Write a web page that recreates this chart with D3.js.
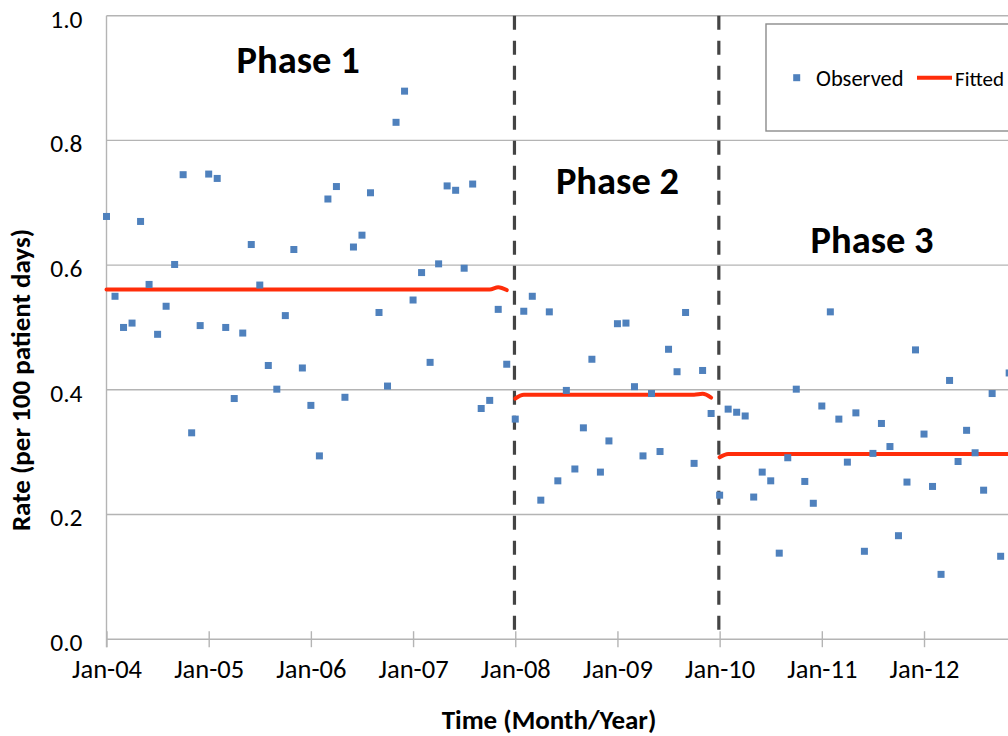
<!DOCTYPE html>
<html>
<head>
<meta charset="utf-8">
<script src="https://cdn.jsdelivr.net/npm/d3@7"></script>
<style>
  html, body { margin: 0; padding: 0; background: #fff; }
  svg { display: block; }
  text { font-family: Carlito, Lato, "Open Sans", sans-serif; fill: #000; }
</style>
</head>
<body>
<div id="chart"></div>
<script>
// ---------------- data ----------------
// monthly observed rates, starting Jan-2004 (month index 0)
const observed = [
  0.678, 0.550, 0.500, 0.507, 0.670, 0.569, 0.489, 0.534, 0.601, 0.745, 0.331, 0.503,
  0.746, 0.739, 0.500, 0.386, 0.491, 0.633, 0.568, 0.439, 0.401, 0.519, 0.625, 0.435,
  0.375, 0.294, 0.706, 0.726, 0.388, 0.629, 0.648, 0.716, 0.524, 0.406, 0.829, 0.879,
  0.544, 0.588, 0.444, 0.602, 0.727, 0.720, 0.595, 0.730, 0.370, 0.383, 0.529, 0.441,
  0.353, 0.526, 0.550, 0.223, 0.525, 0.254, 0.399, 0.273, 0.339, 0.449, 0.268, 0.318,
  0.506, 0.507, 0.405, 0.294, 0.394, 0.301, 0.465, 0.429, 0.524, 0.282, 0.431, 0.362,
  0.231, 0.369, 0.364, 0.358, 0.228, 0.268, 0.254, 0.138, 0.291, 0.401, 0.253, 0.218,
  0.374, 0.525, 0.353, 0.284, 0.363, 0.141, 0.298, 0.346, 0.309, 0.166, 0.252, 0.464,
  0.329, 0.245, 0.104, 0.415, 0.285, 0.335, 0.299, 0.239, 0.394, 0.133, 0.427
];
// fitted segments: [month index, fitted rate]
const fittedPhase1 = [[0, 0.561], [45, 0.561], [46, 0.5645], [47, 0.560]];
const fittedPhase2 = [[48, 0.386], [49, 0.392], [69, 0.392], [70, 0.3935], [71, 0.3875]];
const fittedPhase3 = [[72, 0.2917], [73, 0.297], [108, 0.297]];
const phaseBreaks = [48, 72];               // Jan-08, Jan-10
const phaseLabels = ["Phase 1", "Phase 2", "Phase 3"];
const phaseLabelMonth = [22.5, 60, 89.9];
const phaseLabelValue = [0.908, 0.714, 0.619];
const tickMonths = [0, 12, 24, 36, 48, 60, 72, 84, 96];
const tickLabels = ["Jan-04", "Jan-05", "Jan-06", "Jan-07", "Jan-08", "Jan-09", "Jan-10", "Jan-11", "Jan-12"];
const yTicks = [0, 0.2, 0.4, 0.6, 0.8, 1.0];
const legendLabels = ["Observed", "Fitted"];

// ---------------- layout ----------------
const W = 1008, H = 736;
const x = d3.scaleLinear().domain([0, 108]).range([106.5, 1026.2]);
const y = d3.scaleLinear().domain([0, 1]).range([639.2, 15.7]);
const blue = "#4f81bd", red = "#ff2d0a", grid = "#b4b4b4";

const svg = d3.select("#chart").append("svg").attr("width", W).attr("height", H);
svg.append("rect").attr("width", W).attr("height", H).attr("fill", "#fff");

// gridlines
svg.append("g").selectAll("line").data(yTicks.filter(d => d > 0)).join("line")
  .attr("x1", x(0)).attr("x2", 1040)
  .attr("y1", d => y(d)).attr("y2", d => y(d))
  .attr("stroke", grid).attr("stroke-width", 1.4);

// y axis
const yAxis = svg.append("g").attr("transform", `translate(${x(0)},0)`)
  .call(d3.axisLeft(y).tickValues(yTicks).tickFormat(d3.format(".1f")).tickSize(0).tickPadding(24));
yAxis.select(".domain").remove();
yAxis.selectAll("text").attr("font-size", 25.5).attr("dy", "0.45em")
  .style("font-family", "Carlito, Lato, sans-serif").attr("fill", "#111");
svg.append("line").attr("x1", x(0)).attr("x2", x(0)).attr("y1", y(1)).attr("y2", y(0) + 8)
  .attr("stroke", grid).attr("stroke-width", 1.4);

// x axis
const xAxis = svg.append("g").attr("transform", `translate(0,${y(0)})`)
  .call(d3.axisBottom(x).tickValues(tickMonths).tickFormat((d, i) => tickLabels[i]).tickSize(8).tickPadding(12));
xAxis.select(".domain").attr("d", `M${x(0)},0H1040`).attr("stroke", grid).attr("stroke-width", 1.4);
xAxis.selectAll(".tick line").attr("y1", -8).attr("y2", 8).attr("stroke", grid).attr("stroke-width", 1.4);
xAxis.selectAll(".tick text").attr("font-size", 26.5)
  .style("font-family", "Carlito, Lato, sans-serif").attr("fill", "#111");

// phase boundaries
svg.append("g").selectAll("line").data(phaseBreaks).join("line")
  .attr("x1", d => x(d) - 0.8).attr("x2", d => x(d) - 0.8)
  .attr("y1", y(1)).attr("y2", y(0))
  .attr("stroke", "#444").attr("stroke-width", 3.2).attr("stroke-dasharray", "14,11");

// fitted lines
const line = d3.line().x(d => x(d[0])).y(d => y(d[1])).curve(d3.curveMonotoneX);
svg.append("g").selectAll("path").data([fittedPhase1, fittedPhase2, fittedPhase3]).join("path")
  .attr("d", line).attr("fill", "none").attr("stroke", red).attr("stroke-width", 4)
  .attr("stroke-linecap", "round");

// observed markers
const ms = 7;
svg.append("g").selectAll("rect").data(observed).join("rect")
  .attr("x", (d, i) => x(i) - ms / 2).attr("y", d => y(d) - ms / 2)
  .attr("width", ms).attr("height", ms).attr("fill", blue);

// phase labels
svg.append("g").selectAll("text").data(phaseLabels).join("text")
  .attr("x", (d, i) => x(phaseLabelMonth[i])).attr("y", (d, i) => y(phaseLabelValue[i]))
  .attr("text-anchor", "middle").attr("font-size", 38.5).attr("font-weight", "bold")
  .text(d => d);

// legend
const lg = svg.append("g");
lg.append("rect").attr("x", 766).attr("y", 24).attr("width", 300).attr("height", 107)
  .attr("fill", "#fff").attr("stroke", "#8c8c8c").attr("stroke-width", 1.4);
lg.append("rect").attr("x", 796.7 - 3.5).attr("y", 77.7 - 3.5).attr("width", 7).attr("height", 7).attr("fill", blue);
lg.append("text").attr("x", 816).attr("y", 86).attr("font-size", 22.5).text(legendLabels[0]);
lg.append("line").attr("x1", 917).attr("x2", 952).attr("y1", 77.7).attr("y2", 77.7)
  .attr("stroke", red).attr("stroke-width", 4);
lg.append("text").attr("x", 955).attr("y", 86).attr("font-size", 21).text(legendLabels[1]);

// axis titles
svg.append("text").attr("transform", "translate(30,380) rotate(-90)")
  .attr("text-anchor", "middle").attr("font-size", 27).attr("font-weight", "bold")
  .text("Rate (per 100 patient days)");
svg.append("text").attr("x", 549).attr("y", 729)
  .attr("text-anchor", "middle").attr("font-size", 27).attr("font-weight", "bold")
  .text("Time (Month/Year)");
</script>
</body>
</html>
